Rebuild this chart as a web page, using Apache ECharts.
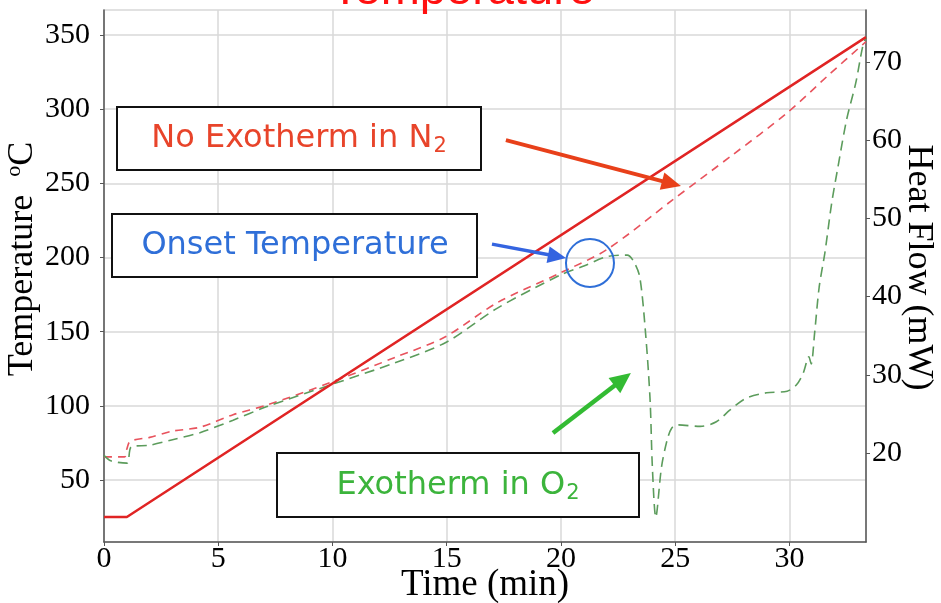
<!DOCTYPE html>
<html><head><meta charset="utf-8">
<script src="https://cdn.jsdelivr.net/npm/echarts@6/dist/echarts.min.js"></script>
<style>html,body{margin:0;padding:0;background:#fff}#c{width:941px;height:603px}</style>
</head><body><div id="c"></div>
<script>
// ---- data ----
const tempTicks = [50, 100, 150, 200, 250, 300, 350];
const heatTicks = [20, 30, 40, 50, 60, 70];
const timeTicks = [0, 5, 10, 15, 20, 25, 30];

// furnace temperature (°C)
const furnaceTime = [0, 1, 33.35];
const furnaceTemp = [25, 25, 348.5];

// heat flow in N2 (mW)
const n2Time = [0, 0.9, 1.0, 1.15, 2, 3, 4.2, 5.65, 7.1, 9.9, 12.8, 14.9, 17.2, 19.95, 22, 24.9, 27.5, 29.9, 31.7, 33.35];
const n2Heat = [19.5, 19.5, 20.5, 21.5, 22.0, 22.8, 23.3, 24.9, 26.1, 29.0, 32.3, 34.8, 39.2, 43.0, 46.0, 52.4, 58.1, 63.5, 68.3, 72.6];

// heat flow in O2 (mW)
const o2Time = [0, 0.3, 1.0, 1.2, 2, 3, 4.2, 5.65, 7.1, 9.9, 12.8, 15, 17.2, 20, 21, 22, 22.9, 23.2, 23.45, 23.7, 23.9, 24.0, 24.15, 24.4, 24.65, 24.85, 25.1, 26.1, 26.8, 27.4, 28.1, 29.0, 29.9, 30.3, 30.6, 30.85, 30.95, 31.1, 31.3, 31.55, 31.85, 32.1, 32.5, 32.9, 33.2, 33.35];
const o2Heat = [19.7, 19.0, 18.7, 20.8, 21.0, 21.7, 22.6, 24.2, 25.9, 28.7, 31.6, 34.2, 38.5, 42.8, 43.9, 45.1, 45.3, 44.4, 42.5, 35.4, 26.8, 18.2, 11.8, 18.2, 21.7, 23.2, 23.6, 23.4, 24.0, 25.5, 27.0, 27.7, 27.9, 28.7, 30.2, 32.3, 31.4, 35.3, 41.2, 45.6, 52.0, 56.2, 62.6, 67.3, 71.9, 73.2];

const zip = (a, b) => a.map((v, i) => [v, b[i]]);

const serif = 'Liberation Serif';
const sans = 'DejaVu Sans';

const chart = echarts.init(document.getElementById('c'));
const option = {
  animation: false,
  backgroundColor: '#fff',
  grid: { left: 104, right: 75, top: 10, bottom: 61, outerBoundsMode: 'none', containLabel: false,
    show: true, borderColor: '#d8d8d8', borderWidth: 1.5, backgroundColor: 'transparent' },
  xAxis: {
    type: 'value', min: 0, max: 33.35,
    name: 'Time (min)', nameLocation: 'middle', nameGap: 25, nameMoveOverlap: false,
    nameTextStyle: { fontFamily: serif, fontSize: 37, color: '#000' },
    axisLine: { show: true, lineStyle: { color: '#555', width: 1.5 } },
    axisTick: { show: true, length: 4, customValues: timeTicks, lineStyle: { color: '#555' } },
    axisLabel: { customValues: timeTicks, fontFamily: serif, fontSize: 30, color: '#000', margin: 2 },
    splitLine: { show: true, lineStyle: { color: '#d8d8d8', width: 1.5 } }
  },
  yAxis: [{
    type: 'value', min: 8.2, max: 366.8, position: 'left',
    name: 'Temperature  {sup|o}C', nameLocation: 'middle', nameRotate: 90, nameGap: 61, nameMoveOverlap: false,
    nameTextStyle: { fontFamily: serif, fontSize: 36, color: '#000', padding: [0, 0, 0, 34],
      rich: { sup: { fontFamily: serif, fontSize: 22, color: '#000', padding: [0, 0, 18, 0] } } },
    axisLine: { show: true, lineStyle: { color: '#555', width: 1.5 } },
    axisTick: { show: true, length: 4, customValues: tempTicks, lineStyle: { color: '#555' } },
    axisLabel: { customValues: tempTicks, fontFamily: serif, fontSize: 30, color: '#000', margin: 14 },
    splitLine: { show: true, lineStyle: { color: '#d8d8d8', width: 1.5 } }
  }, {
    type: 'value', min: 8.62, max: 76.65, position: 'right',
    name: 'Heat Flow (mW)', nameLocation: 'middle', nameRotate: -90, nameGap: 34, nameMoveOverlap: false,
    nameTextStyle: { fontFamily: serif, fontSize: 36, color: '#000', padding: [0, 17, 0, 0] },
    axisLine: { show: true, lineStyle: { color: '#555', width: 1.5 } },
    axisTick: { show: true, length: 4, customValues: heatTicks, lineStyle: { color: '#555' } },
    axisLabel: { customValues: heatTicks, fontFamily: serif, fontSize: 30, color: '#000', margin: 6 },
    splitLine: { show: false }
  }],
  series: [{
    name: 'Temperature', type: 'line', yAxisIndex: 0, data: zip(furnaceTime, furnaceTemp),
    showSymbol: false, lineStyle: { color: '#e02424', width: 2.5 }, z: 3
  }, {
    name: 'N2', type: 'line', yAxisIndex: 1, data: zip(n2Time, n2Heat), smooth: 0.3,
    showSymbol: false, lineStyle: { color: '#e8535d', width: 1.6, type: [8, 6] }, z: 2
  }, {
    name: 'O2', type: 'line', yAxisIndex: 1, data: zip(o2Time, o2Heat), smooth: 0.3,
    showSymbol: false, lineStyle: { color: '#5c9c5c', width: 1.6, type: [10, 6] }, z: 2
  }]
};
chart.setOption(option);

function px(t, T) { return chart.convertToPixel({ seriesIndex: 0 }, [t, T]); }
function arrow(a, b, color, w, head) {
  const p0 = px(a[0], a[1]), p1 = px(b[0], b[1]);
  const dx = p1[0] - p0[0], dy = p1[1] - p0[1], L = Math.hypot(dx, dy), ux = dx / L, uy = dy / L;
  const hl = head * 1.3, hw = head * 0.6;
  const bx = p1[0] - ux * hl, by = p1[1] - uy * hl;
  return [
    { type: 'line', z: 10, shape: { x1: p0[0], y1: p0[1], x2: bx + ux * 2, y2: by + uy * 2 }, style: { stroke: color, lineWidth: w } },
    { type: 'polygon', z: 10, shape: { points: [[p1[0], p1[1]], [bx - uy * hw, by + ux * hw], [bx + uy * hw, by - ux * hw]] }, style: { fill: color } }
  ];
}
function box(x, y, w, h) {
  return { type: 'rect', z: 9, shape: { x: x, y: y, width: w, height: h }, style: { fill: '#fff', stroke: '#111', lineWidth: 2 } };
}
function label(x, y, text, color) {
  return { type: 'text', z: 11, style: { x: x, y: y, text: text, fill: color, fontFamily: sans, fontSize: 32, align: 'center', verticalAlign: 'middle',
    rich: { s: { fill: color, fontFamily: sans, fontSize: 21, padding: [16, 0, 0, 1] } } } };
}
const c = px(21.27, 196.2);
const graphics = [
  { type: 'text', z: 1, style: { x: 463, y: -9, text: 'Temperature', fill: '#ff1010', fontFamily: 'Liberation Sans', fontSize: 47, align: 'center', verticalAlign: 'middle' } },
  box(117, 107, 364, 63), label(299, 139, 'No Exotherm in N{s|2}', '#e8442a'),
  box(112, 214, 365, 63), label(295, 246, 'Onset Temperature', '#2f6fd8'),
  box(277, 453, 362, 64), label(458, 486, 'Exotherm in O{s|2}', '#3cb43c'),
  { type: 'circle', z: 10, shape: { cx: c[0], cy: c[1], r: 24 }, style: { fill: 'none', stroke: '#2f6fd8', lineWidth: 2 } }
].concat(
  arrow([17.59, 279.1], [25.25, 248.1], '#e8401a', 4, 15),
  arrow([16.98, 209.0], [20.22, 199.6], '#3464e0', 3.5, 14),
  arrow([19.65, 81.7], [23.06, 122.1], '#33bb33', 4.5, 16)
);
chart.setOption({ graphic: graphics });
</script></body></html>
